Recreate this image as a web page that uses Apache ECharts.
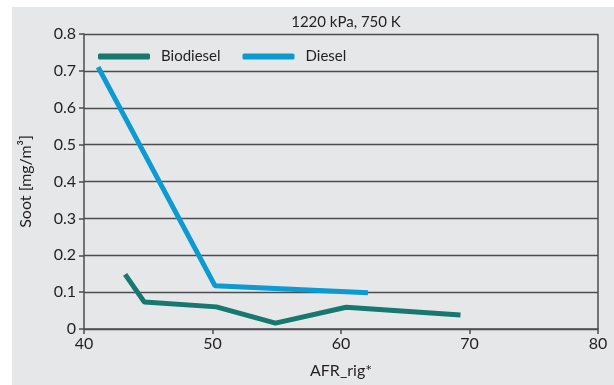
<!DOCTYPE html>
<html><head><meta charset="utf-8">
<script src="https://cdn.jsdelivr.net/npm/echarts@6/dist/echarts.min.js"></script>
<style>html,body{margin:0;padding:0;background:#fff}#c{width:614px;height:385px}</style>
</head><body><div id="c"></div>
<script>
const titleText = '1220 kPa, 750 K';
const xName = 'AFR_rig*';
const yName = 'Soot [mg/m³]';
const biodieselX = [43.2, 44.7, 50.3, 54.9, 60.4, 69.3];
const biodieselY = [0.148, 0.073, 0.06, 0.016, 0.059, 0.038];
const dieselX = [41.1, 50.2, 62.1];
const dieselY = [0.71, 0.117, 0.098];
const seriesNames = ['Biodiesel', 'Diesel'];

const font = 'Lato';
const chart = echarts.init(document.getElementById('c'));
const zip = (xs, ys) => xs.map((x, i) => [x, ys[i]]);
chart.setOption({
  backgroundColor: '#fff',
  animation: false,
  graphic: [
    {type: 'rect', z: -10, silent: true, shape: {x: 12, y: 7, width: 602, height: 378}, style: {fill: '#e6e7e9'}},
    {type: 'line', z: 5, silent: true, shape: {x1: 598, y1: 34, x2: 598, y2: 329}, style: {stroke: '#4d4d4f', lineWidth: 1.5}}
  ],
  title: {text: titleText, left: 341, top: 10, textAlign: 'center', textStyle: {fontFamily: font, fontWeight: 'normal', fontSize: 15, color: '#231f20'}},
  legend: {
    left: 93, top: 44, itemWidth: 52, itemHeight: 6, itemGap: 22,
    icon: 'roundRect',
    textStyle: {fontFamily: font, fontSize: 15, color: '#231f20', padding: [0, 0, 0, 6]},
    data: seriesNames
  },
  grid: {left: 84, right: 16, top: 34, bottom: 56},
  xAxis: {
    type: 'value', min: 40, max: 80, interval: 10,
    name: xName, nameLocation: 'middle', nameGap: 34,
    nameTextStyle: {fontFamily: font, fontSize: 16, color: '#231f20'},
    axisLine: {show: true, lineStyle: {color: '#4d4d4f', width: 1.5}},
    axisTick: {show: true, length: 5, lineStyle: {color: '#4d4d4f', width: 1.5}},
    axisLabel: {fontFamily: font, fontSize: 16, color: '#231f20', margin: 7},
    splitLine: {show: false}
  },
  yAxis: {
    type: 'value', min: 0, max: 0.8, interval: 0.1,
    name: yName, nameLocation: 'middle', nameGap: 50,
    nameTextStyle: {fontFamily: font, fontSize: 16, color: '#231f20'},
    axisLine: {show: true, lineStyle: {color: '#4d4d4f', width: 1.5}},
    axisTick: {show: true, length: 5, lineStyle: {color: '#4d4d4f', width: 1.5}},
    axisLabel: {fontFamily: font, fontSize: 16, color: '#231f20', margin: 8, formatter: v => (Math.round(v*10)/10).toString()},
    splitLine: {show: true, lineStyle: {color: '#4d4d4f', width: 1.3}}
  },
  series: [
    {name: seriesNames[0], type: 'line', data: zip(biodieselX, biodieselY), showSymbol: false, symbol: 'none',
     lineStyle: {color: '#177870', width: 5}, itemStyle: {color: '#177870'}},
    {name: seriesNames[1], type: 'line', data: zip(dieselX, dieselY), showSymbol: false, symbol: 'none',
     lineStyle: {color: '#0b9ad2', width: 5}, itemStyle: {color: '#0b9ad2'}}
  ]
});
</script></body></html>
